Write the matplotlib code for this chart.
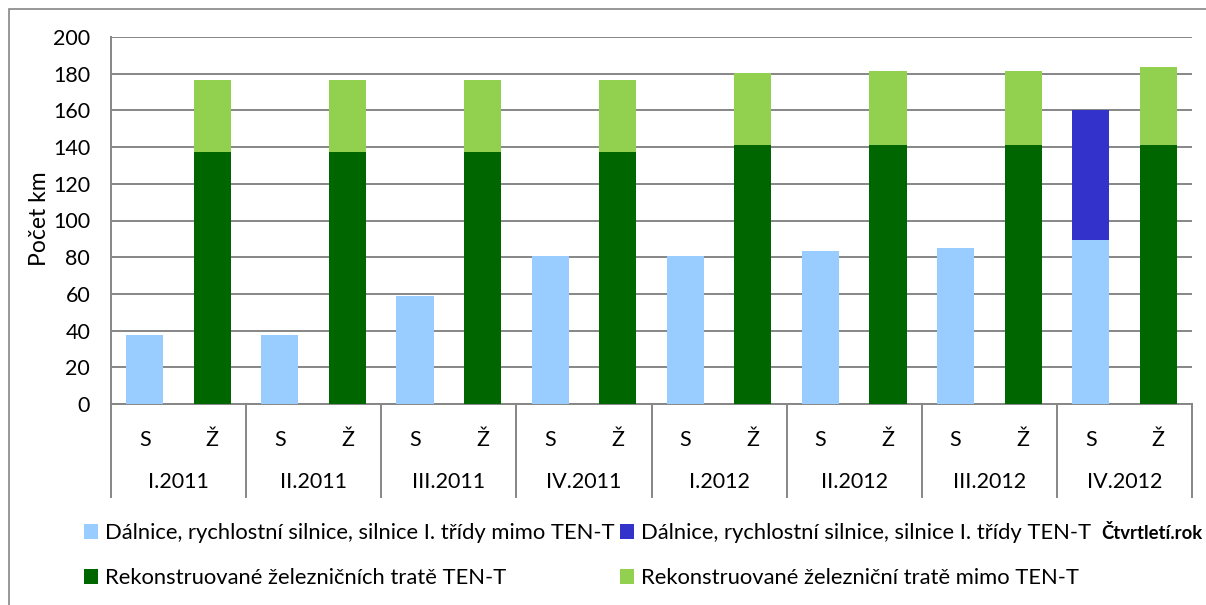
import matplotlib
matplotlib.use("Agg")
import matplotlib.pyplot as plt
from matplotlib.patches import Rectangle
import matplotlib.transforms as mtransforms

plt.rcParams['font.family'] = ['Lato', 'DejaVu Sans']

quarters = ["I.2011", "II.2011", "III.2011", "IV.2011", "I.2012", "II.2012", "III.2012", "IV.2012"]
sub_labels = ["S", "Ž"]
road_non_tent = [37.6, 37.6, 58.9, 80.7, 80.7, 83.5, 84.8, 89.4]
road_tent = [0, 0, 0, 0, 0, 0, 0, 70.8]
rail_tent = [137.3, 137.3, 137.3, 137.3, 141.1, 141.1, 141.1, 141.1]
rail_non_tent = [39.3, 39.3, 39.3, 39.3, 39.4, 40.5, 40.5, 42.7]

names = ["Dálnice, rychlostní silnice, silnice I. třídy mimo TEN-T",
         "Dálnice, rychlostní silnice, silnice I. třídy TEN-T",
         "Rekonstruované železničních tratě TEN-T",
         "Rekonstruované železniční tratě mimo TEN-T"]
colors = ["#99CCFF", "#3333CC", "#006600", "#92D050"]

W, H = 1206, 605
fig = plt.figure(figsize=(W / 100, H / 100), dpi=100)
L, R, T, B = 111, 1192, 37, 404
ax = fig.add_axes([L / W, 1 - B / H, (R - L) / W, (B - T) / H])

fs = 15.5

# outer chart border
fig.patches.append(Rectangle((9 / W, -0.1), 1.2, 1 - 9 / H + 0.1, transform=fig.transFigure,
                             fill=False, edgecolor="#868686", linewidth=1.2))

n = len(quarters)
xs_s = [2 * i for i in range(n)]
xs_z = [2 * i + 1 for i in range(n)]
bw = 0.55
b1 = ax.bar(xs_s, road_non_tent, bw, color=colors[0], zorder=3)
b2 = ax.bar(xs_s, road_tent, bw, bottom=road_non_tent, color=colors[1], zorder=3)
b3 = ax.bar(xs_z, rail_tent, bw, color=colors[2], zorder=3)
b4 = ax.bar(xs_z, rail_non_tent, bw, bottom=rail_tent, color=colors[3], zorder=3)

ax.set_xlim(-0.5, 2 * n - 0.5)
ax.set_ylim(0, 200)
ax.set_yticks(range(0, 201, 20))
ax.grid(axis='y', color="#868686", linewidth=1.4, zorder=0)
ax.set_axisbelow(True)
for s in ["top", "right"]:
    ax.spines[s].set_visible(False)
for s in ["left", "bottom"]:
    ax.spines[s].set_color("#868686")
    ax.spines[s].set_linewidth(1.4)
ax.tick_params(axis='y', length=0, pad=15, labelsize=fs)
ax.set_ylabel("Počet km", fontsize=16.5)
ax.yaxis.set_label_coords((50 - L) / (R - L), 0.505)

ax.set_xticks(xs_s + xs_z)
ax.set_xticklabels([sub_labels[0]] * n + [sub_labels[1]] * n, fontsize=fs)
ax.tick_params(axis='x', length=0, pad=19)

trans = mtransforms.blended_transform_factory(ax.transData, ax.transAxes)
sep_bottom = -(497 - B) / (B - T)
for i in range(n + 1):
    ax.plot([2 * i - 0.5, 2 * i - 0.5], [0, sep_bottom], transform=trans, color="#868686",
            linewidth=1.4, clip_on=False)
for i, q in enumerate(quarters):
    ax.text(2 * i + 0.5, -(482 - B) / (B - T), q, transform=trans, ha='center', va='center',
            fontsize=fs)

handles = [b1, b3, b2, b4]
labels = [names[0], names[2], names[1], names[3]]
fig.legend(handles, labels, loc='upper left', bbox_to_anchor=(84 / W, 1 - 523 / H), ncol=2,
           frameon=False, fontsize=15.8, handlelength=0.65, handleheight=0.65, handletextpad=0.3,
           columnspacing=0.25, labelspacing=1.15, borderaxespad=0, borderpad=0)

fig.text(1101 / W, 1 - 533 / H, "Čtvrtletí.rok", fontsize=13.3, fontweight='bold', va='center', ha='left')

fig.savefig("out.png", dpi=100)
